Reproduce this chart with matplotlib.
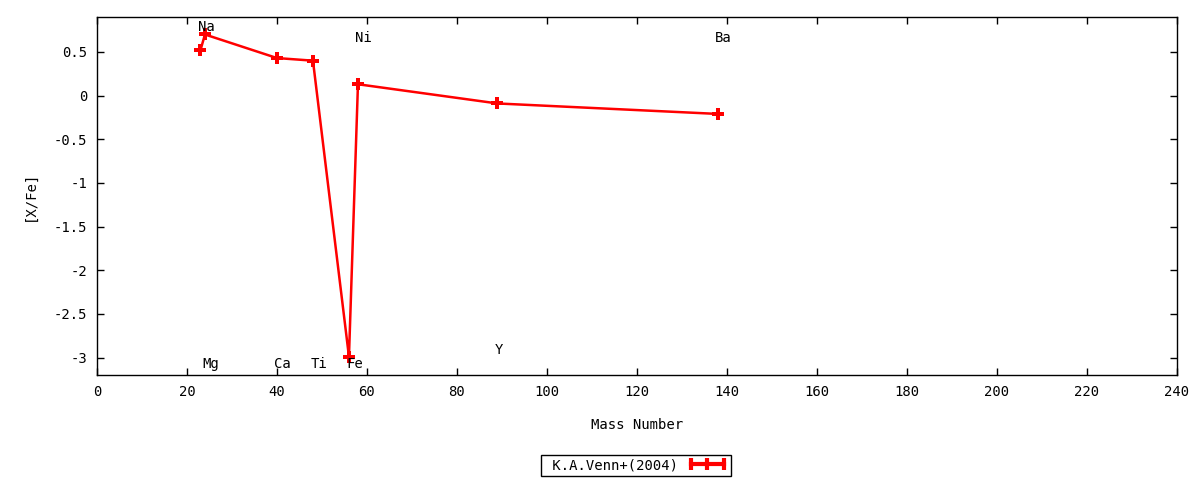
import matplotlib.pyplot as plt
from matplotlib.lines import Line2D

# abundance data (mass number vs [X/Fe])
elements = ["Na", "Mg", "Ca", "Ti", "Fe", "Ni", "Y", "Ba"]
mass = [23, 24, 40, 48, 56, 58, 89, 138]
x_fe = [0.52, 0.70, 0.43, 0.40, -2.99, 0.13, -0.09, -0.21]
label_y = [0.78, -3.07, -3.07, -3.07, -3.07, 0.66, -2.91, 0.66]

plt.rcParams['font.family'] = ['DejaVu Sans Mono']
plt.rcParams['font.size'] = 10

fig = plt.figure(figsize=(12, 4.8), dpi=100)
ax = fig.add_axes([0.0808, 0.21875, 0.9, 0.7458])

ax.plot(mass, x_fe, color='red', lw=1.8, marker='P',
        markersize=8, markeredgewidth=0)

for name, m, ly in zip(elements, mass, label_y):
    ax.text(m - 0.6, ly, name, ha='left', va='center', fontsize=10)

ax.set_xlim(0, 240)
ax.set_ylim(-3.2, 0.9)
ax.set_xticks(range(0, 241, 20))
ax.set_yticks([0.5, 0, -0.5, -1, -1.5, -2, -2.5, -3])
ax.set_yticklabels(["0.5", "0", "-0.5", "-1", "-1.5", "-2", "-2.5", "-3"])
ax.tick_params(direction='in', top=True, right=True, length=5, width=1, pad=7)
for s in ax.spines.values():
    s.set_linewidth(1)

ax.set_xlabel("Mass Number", labelpad=14)
ax.set_ylabel("[X/Fe]", labelpad=12)

handle = Line2D([], [], color='red', lw=3, marker='|', markersize=9,
                markeredgewidth=3)
leg = fig.legend([handle], [" K.A.Venn+(2004)"], loc='center',
                 bbox_to_anchor=(0.53, 0.031), markerfirst=False, numpoints=3,
                 fancybox=False, framealpha=1, edgecolor='black',
                 borderpad=0.25, handlelength=3.0, handletextpad=0.6,
                 fontsize=10)
leg.get_frame().set_linewidth(1)

plt.savefig("out.png", dpi=100)
